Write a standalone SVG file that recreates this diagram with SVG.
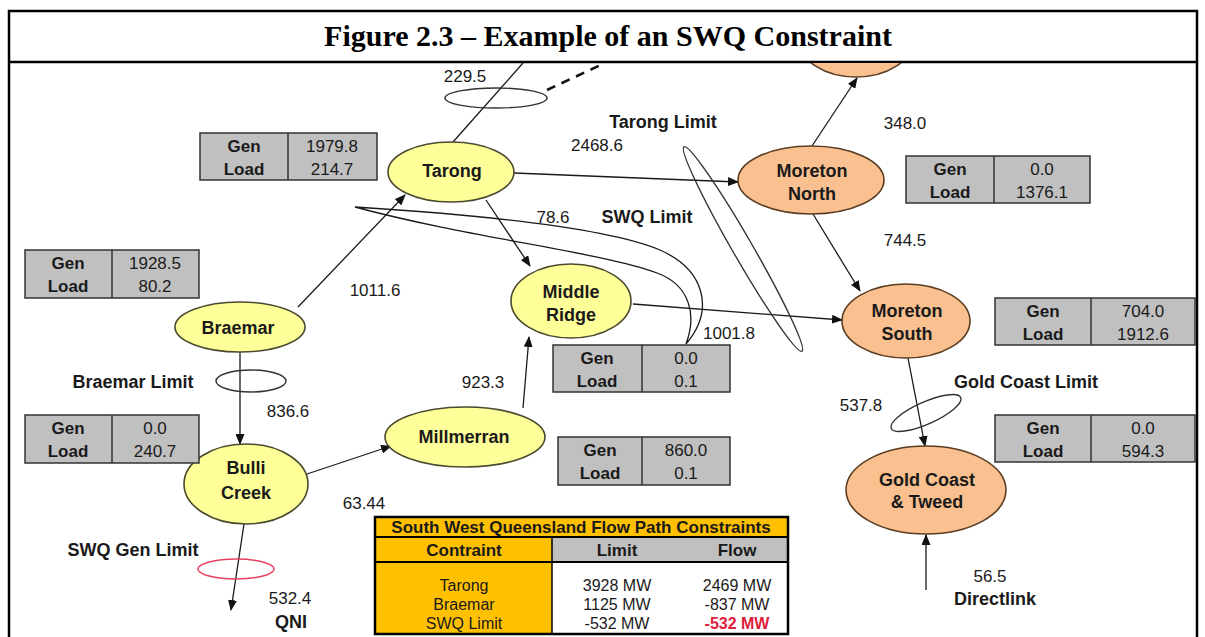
<svg xmlns="http://www.w3.org/2000/svg" width="1205" height="637" viewBox="0 0 1205 637">
<defs>
<marker id="arr" markerUnits="userSpaceOnUse" markerWidth="11" markerHeight="9" refX="10" refY="4.5" orient="auto">
<path d="M0,0 L11,4.5 L0,9 z" fill="#111"/>
</marker>
<clipPath id="below"><rect x="8" y="63" width="1190" height="580"/></clipPath>
</defs>
<style>
.ln{stroke:#1a1a1a;stroke-width:1.3;fill:none}
.yl{fill:#ffff99;stroke:#4a4a30;stroke-width:1.6}
.or{fill:#fac08f;stroke:#5a3d22;stroke-width:1.6}
.lim{fill:none;stroke:#333;stroke-width:1.4}
.nt{font-family:"Liberation Sans",Arial,sans-serif;font-weight:bold;font-size:18px;fill:#1a1a1a;text-anchor:middle}
.lb{font-family:"Liberation Sans",Arial,sans-serif;font-weight:bold;font-size:18px;fill:#1a1a1a;text-anchor:middle}
.num{font-family:"Liberation Sans",Arial,sans-serif;font-size:17px;fill:#1a1a1a;text-anchor:middle}
.box{fill:#c0c0c0;stroke:#333;stroke-width:1.5}
.dv{stroke:#333;stroke-width:1.5}
.bk{font-family:"Liberation Sans",Arial,sans-serif;font-weight:bold;font-size:17px;fill:#1a1a1a;text-anchor:middle}
.bv{font-family:"Liberation Sans",Arial,sans-serif;font-size:17px;fill:#1a1a1a;text-anchor:middle}
.tt{font-family:"Liberation Sans",Arial,sans-serif;font-size:16px;fill:#1a1a1a;text-anchor:middle}
.tb{font-family:"Liberation Sans",Arial,sans-serif;font-weight:bold;font-size:17px;fill:#1a1a1a;text-anchor:middle}
</style>
<rect x="0" y="0" width="1205" height="637" fill="#fff"/>
<g id="frame">
<rect x="9" y="11" width="1188" height="640" fill="none" stroke="#000" stroke-width="2.5"/>
<line x1="9" y1="62" x2="1197" y2="62" stroke="#000" stroke-width="2.5"/>
<text x="608" y="46" font-family="'Liberation Serif','Times New Roman',serif" font-weight="bold" font-size="30" text-anchor="middle" fill="#000">Figure 2.3 – Example of an SWQ Constraint</text>
</g>
<g id="connectors">
<line class="ln" x1="523" y1="63" x2="453" y2="142"/>
<line x1="547" y1="90" x2="605" y2="63" stroke="#111" stroke-width="2.5" stroke-dasharray="9,7"/>
<line class="ln" x1="514" y1="173" x2="738" y2="182" marker-end="url(#arr)"/>
<line class="ln" x1="812" y1="146" x2="857" y2="78" marker-end="url(#arr)"/>
<line class="ln" x1="813" y1="214" x2="860" y2="291" marker-end="url(#arr)"/>
<line class="ln" x1="486" y1="200" x2="530" y2="266" marker-end="url(#arr)"/>
<line class="ln" x1="298" y1="307" x2="405" y2="195" marker-end="url(#arr)"/>
<line class="ln" x1="633" y1="304" x2="842" y2="320" marker-end="url(#arr)"/>
<line class="ln" x1="240" y1="352" x2="240" y2="444" marker-end="url(#arr)"/>
<line class="ln" x1="307" y1="474" x2="391" y2="446" marker-end="url(#arr)"/>
<line class="ln" x1="523" y1="408" x2="529" y2="337" marker-end="url(#arr)"/>
<line class="ln" x1="244" y1="524" x2="231" y2="610" marker-end="url(#arr)"/>
<line class="ln" x1="908" y1="358" x2="925" y2="446" marker-end="url(#arr)"/>
<line class="ln" x1="926" y1="590" x2="926" y2="535" marker-end="url(#arr)"/>
<path class="ln" d="M355,207 C450,213 600,225 660,250 C705,270 715,310 686,344 C697,315 690,285 657,273 C600,252 470,238 355,207 Z"/>
<ellipse class="lim" cx="496" cy="98" rx="51" ry="10"/>
<ellipse class="lim" cx="743" cy="249" rx="118" ry="10" transform="rotate(60 743 249)"/>
<ellipse class="lim" cx="251" cy="381" rx="35" ry="11"/>
<ellipse cx="236" cy="569" rx="38" ry="10" fill="none" stroke="#e8405e" stroke-width="1.5"/>
<ellipse class="lim" cx="926" cy="413" rx="38" ry="11" transform="rotate(-24 926 413)"/>
</g>
<g id="node-top" clip-path="url(#below)">
<ellipse class="or" cx="856" cy="40" rx="57" ry="37"/>
</g>
<g id="node-tarong">
<ellipse class="yl" cx="451" cy="172" rx="63" ry="30"/>
<text class="nt" x="452" y="177">Tarong</text>
</g>
<g id="node-braemar">
<ellipse class="yl" cx="240" cy="327" rx="65" ry="25"/>
<text class="nt" x="238" y="334">Braemar</text>
</g>
<g id="node-bulli">
<ellipse class="yl" cx="246" cy="484" rx="62" ry="40"/>
<text class="nt" x="246" y="474">Bulli</text>
<text class="nt" x="246" y="499">Creek</text>
</g>
<g id="node-millmerran">
<ellipse class="yl" cx="465" cy="437" rx="80" ry="30"/>
<text class="nt" x="464" y="443">Millmerran</text>
</g>
<g id="node-middleridge">
<ellipse class="yl" cx="571" cy="301" rx="60" ry="37"/>
<text class="nt" x="571" y="298">Middle</text>
<text class="nt" x="571" y="321">Ridge</text>
</g>
<g id="node-moretonnorth">
<ellipse class="or" cx="811" cy="180" rx="73" ry="34"/>
<text class="nt" x="812" y="177">Moreton</text>
<text class="nt" x="812" y="200">North</text>
</g>
<g id="node-moretonsouth">
<ellipse class="or" cx="906" cy="321" rx="64" ry="37"/>
<text class="nt" x="907" y="317">Moreton</text>
<text class="nt" x="907" y="340">South</text>
</g>
<g id="node-goldcoast">
<ellipse class="or" cx="926" cy="490" rx="80" ry="44"/>
<text class="nt" x="927" y="486">Gold Coast</text>
<text class="nt" x="927" y="508">&amp; Tweed</text>
</g>
<g id="box-tarong">
<rect class="box" x="200" y="133" width="177" height="47"/>
<line class="dv" x1="288" y1="133" x2="288" y2="180"/>
<text class="bk" x="244" y="152">Gen</text><text class="bk" x="244" y="175">Load</text>
<text class="bv" x="332" y="152">1979.8</text><text class="bv" x="332" y="175">214.7</text>
</g>
<g id="box-braemar">
<rect class="box" x="25" y="250" width="174" height="48"/>
<line class="dv" x1="112" y1="250" x2="112" y2="298"/>
<text class="bk" x="68" y="269">Gen</text><text class="bk" x="68" y="292">Load</text>
<text class="bv" x="155" y="269">1928.5</text><text class="bv" x="155" y="292">80.2</text>
</g>
<g id="box-bulli">
<rect class="box" x="25" y="415" width="174" height="48"/>
<line class="dv" x1="112" y1="415" x2="112" y2="463"/>
<text class="bk" x="68" y="434">Gen</text><text class="bk" x="68" y="457">Load</text>
<text class="bv" x="155" y="434">0.0</text><text class="bv" x="155" y="457">240.7</text>
</g>
<g id="box-middleridge">
<rect class="box" x="553" y="345" width="177" height="47"/>
<line class="dv" x1="642" y1="345" x2="642" y2="392"/>
<text class="bk" x="597" y="364">Gen</text><text class="bk" x="597" y="387">Load</text>
<text class="bv" x="686" y="364">0.0</text><text class="bv" x="686" y="387">0.1</text>
</g>
<g id="box-millmerran">
<rect class="box" x="558" y="437" width="172" height="48"/>
<line class="dv" x1="642" y1="437" x2="642" y2="485"/>
<text class="bk" x="600" y="456">Gen</text><text class="bk" x="600" y="479">Load</text>
<text class="bv" x="686" y="456">860.0</text><text class="bv" x="686" y="479">0.1</text>
</g>
<g id="box-moretonnorth">
<rect class="box" x="906" y="156" width="184" height="47"/>
<line class="dv" x1="994" y1="156" x2="994" y2="203"/>
<text class="bk" x="950" y="175">Gen</text><text class="bk" x="950" y="198">Load</text>
<text class="bv" x="1042" y="175">0.0</text><text class="bv" x="1042" y="198">1376.1</text>
</g>
<g id="box-moretonsouth">
<rect class="box" x="995" y="298" width="200" height="47"/>
<line class="dv" x1="1091" y1="298" x2="1091" y2="345"/>
<text class="bk" x="1043" y="317">Gen</text><text class="bk" x="1043" y="340">Load</text>
<text class="bv" x="1143" y="317">704.0</text><text class="bv" x="1143" y="340">1912.6</text>
</g>
<g id="box-goldcoast">
<rect class="box" x="995" y="415" width="200" height="47"/>
<line class="dv" x1="1091" y1="415" x2="1091" y2="462"/>
<text class="bk" x="1043" y="434">Gen</text><text class="bk" x="1043" y="457">Load</text>
<text class="bv" x="1143" y="434">0.0</text><text class="bv" x="1143" y="457">594.3</text>
</g>
<g id="labels">
<text class="num" x="465" y="82">229.5</text>
<text class="lb" x="663" y="128">Tarong Limit</text>
<text class="num" x="597" y="151">2468.6</text>
<text class="num" x="905" y="129">348.0</text>
<text class="num" x="553" y="223">78.6</text>
<text class="lb" x="647" y="223">SWQ Limit</text>
<text class="num" x="905" y="246">744.5</text>
<text class="num" x="375" y="296">1011.6</text>
<text class="num" x="729" y="339">1001.8</text>
<text class="num" x="483" y="388">923.3</text>
<text class="lb" x="133" y="388">Braemar Limit</text>
<text class="num" x="288" y="417">836.6</text>
<text class="num" x="861" y="411">537.8</text>
<text class="lb" x="1026" y="388">Gold Coast Limit</text>
<text class="num" x="364" y="509">63.44</text>
<text class="lb" x="133" y="556">SWQ Gen Limit</text>
<text class="num" x="290" y="604">532.4</text>
<text class="lb" x="291" y="628">QNI</text>
<text class="num" x="990" y="582">56.5</text>
<text class="lb" x="995" y="605">Directlink</text>
</g>
<g id="table">
<rect x="375" y="517" width="413" height="117" fill="#fff"/>
<rect x="375" y="517" width="413" height="20" fill="#ffc000"/>
<rect x="375" y="537" width="177" height="97" fill="#ffc000"/>
<rect x="552" y="537" width="236" height="25" fill="#c0c0c0"/>
<line x1="375" y1="537" x2="788" y2="537" stroke="#000" stroke-width="2"/>
<line x1="375" y1="562" x2="788" y2="562" stroke="#000" stroke-width="2"/>
<line x1="552" y1="537" x2="552" y2="634" stroke="#000" stroke-width="1.5"/>
<rect x="375" y="517" width="413" height="117" fill="none" stroke="#000" stroke-width="2.5"/>
<text class="tb" x="581" y="533">South West Queensland Flow Path Constraints</text>
<text class="tb" x="464" y="556">Contraint</text>
<text class="tb" x="617" y="556">Limit</text>
<text class="tb" x="737" y="556">Flow</text>
<text class="tt" x="464" y="591">Tarong</text>
<text class="tt" x="464" y="610">Braemar</text>
<text class="tt" x="464" y="629">SWQ Limit</text>
<text class="tt" x="617" y="591">3928 MW</text>
<text class="tt" x="617" y="610">1125 MW</text>
<text class="tt" x="617" y="629">-532 MW</text>
<text class="tt" x="737" y="591">2469 MW</text>
<text class="tt" x="737" y="610">-837 MW</text>
<text class="tt" x="737" y="629" style="fill:#e0203a;font-weight:bold">-532 MW</text>
</g>
</svg>
